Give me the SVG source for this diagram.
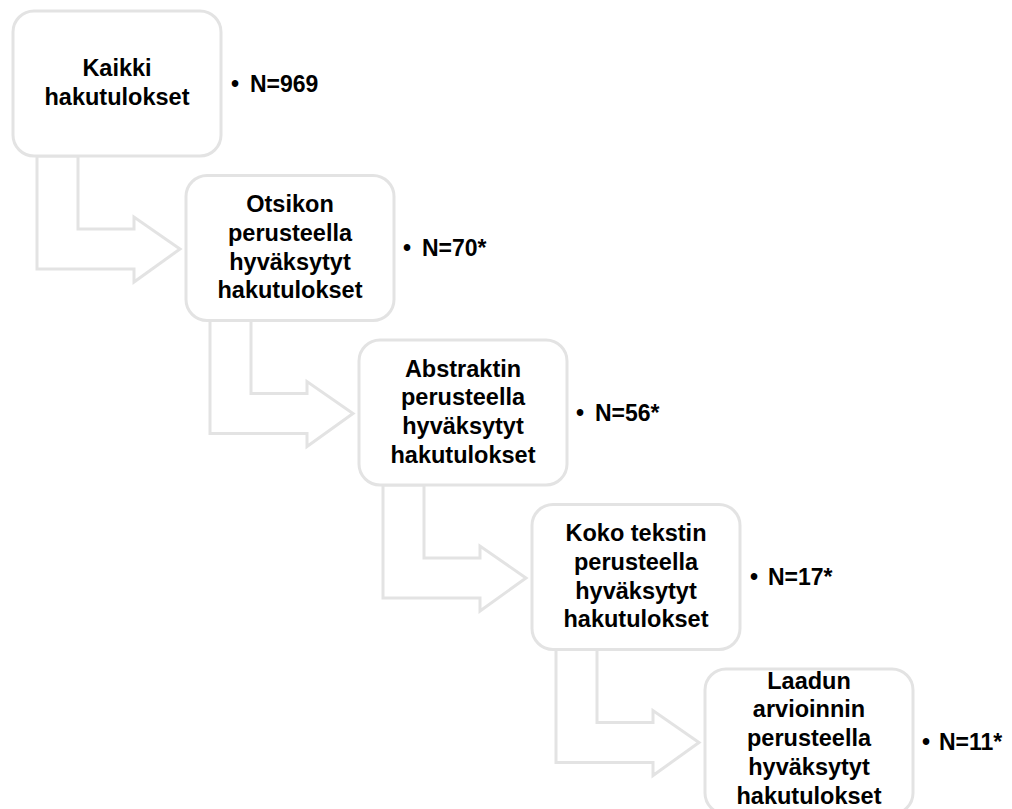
<svg xmlns="http://www.w3.org/2000/svg" width="1012" height="809" viewBox="0 0 1012 809">
<style>
.box{fill:#fff;stroke:#e3e3e3;stroke-width:3}
.arr{fill:#fff;stroke:#e3e3e3;stroke-width:3;stroke-linejoin:miter}
.t{font-family:"Liberation Sans",Arial,sans-serif;font-weight:bold;font-size:23.5px;fill:#000;text-anchor:middle}
.n{font-family:"Liberation Sans",Arial,sans-serif;font-weight:bold;font-size:23px;fill:#000}
</style>
<rect width="1012" height="809" fill="#fff"/>
<g id="connectors">
<path class="arr" d="M37,156 L37,269 L134,269 L134,282 L180,249 L134,217 L134,229 L78,229 L78,156 Z"/>
<path class="arr" d="M210,320.5 L210,433.5 L307,433.5 L307,446.5 L353,413.5 L307,381.5 L307,393.5 L251,393.5 L251,320.5 Z"/>
<path class="arr" d="M383,485 L383,598 L480,598 L480,611 L526,578 L480,546 L480,558 L424,558 L424,485 Z"/>
<path class="arr" d="M556,649.5 L556,762.5 L653,762.5 L653,775.5 L699,742.5 L653,710.5 L653,722.5 L597,722.5 L597,649.5 Z"/>
</g>
<g id="node1">
<rect class="box" x="13" y="11" width="208" height="145" rx="21"/>
<text class="t" x="117" y="76">Kaikki</text>
<text class="t" x="117" y="105">hakutulokset</text>
<text class="n" y="92"><tspan x="231">•</tspan><tspan x="250">N=969</tspan></text>
</g>
<g id="node2">
<rect class="box" x="186" y="175.5" width="208" height="145" rx="21"/>
<text class="t" x="290" y="212">Otsikon</text>
<text class="t" x="290" y="240.8">perusteella</text>
<text class="t" x="290" y="269.6">hyväksytyt</text>
<text class="t" x="290" y="298.4">hakutulokset</text>
<text class="n" y="256"><tspan x="403">•</tspan><tspan x="422">N=70*</tspan></text>
</g>
<g id="node3">
<rect class="box" x="359" y="340" width="208" height="145" rx="21"/>
<text class="t" x="463" y="376.5">Abstraktin</text>
<text class="t" x="463" y="405.3">perusteella</text>
<text class="t" x="463" y="434.1">hyväksytyt</text>
<text class="t" x="463" y="462.9">hakutulokset</text>
<text class="n" y="420.5"><tspan x="576">•</tspan><tspan x="595">N=56*</tspan></text>
</g>
<g id="node4">
<rect class="box" x="532" y="504.5" width="208" height="145" rx="21"/>
<text class="t" x="636" y="541">Koko tekstin</text>
<text class="t" x="636" y="569.8">perusteella</text>
<text class="t" x="636" y="598.6">hyväksytyt</text>
<text class="t" x="636" y="627.4">hakutulokset</text>
<text class="n" y="585"><tspan x="750">•</tspan><tspan x="768">N=17*</tspan></text>
</g>
<g id="node5">
<rect class="box" x="705" y="669" width="208" height="145" rx="21"/>
<text class="t" x="809" y="688.5">Laadun</text>
<text class="t" x="809" y="717.3">arvioinnin</text>
<text class="t" x="809" y="746.1">perusteella</text>
<text class="t" x="809" y="774.9">hyväksytyt</text>
<text class="t" x="809" y="803.7">hakutulokset</text>
<text class="n" y="749.5"><tspan x="922">•</tspan><tspan x="939">N=11*</tspan></text>
</g>
</svg>
